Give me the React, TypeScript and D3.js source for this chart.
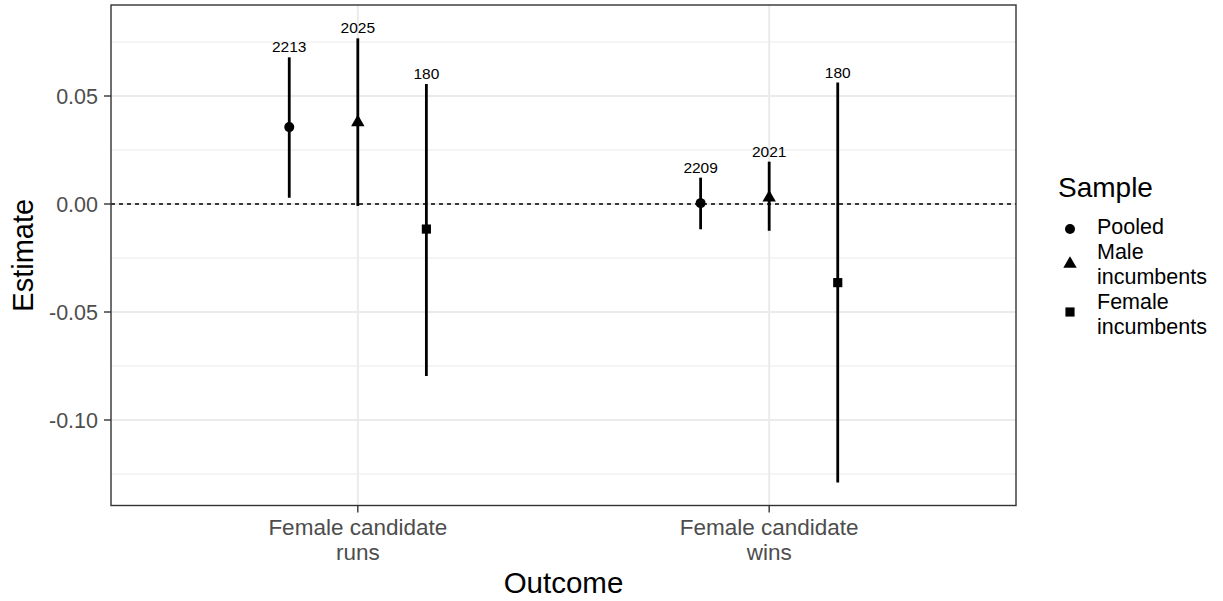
import React from 'react'
import * as d3 from 'd3'

const outcomes = ['Female candidate\nruns', 'Female candidate\nwins']
const samples = ['Pooled', 'Male\nincumbents', 'Female\nincumbents']

// estimates[sample][outcome]
const estimates = [
  [0.0356, 0.0004],
  [0.0378, 0.0029],
  [-0.0116, -0.0364],
]
const lowers = [
  [0.0029, -0.0117],
  [-0.0009, -0.0124],
  [-0.0796, -0.1289],
]
const uppers = [
  [0.0679, 0.0122],
  [0.0767, 0.0196],
  [0.0556, 0.0562],
]
const nObs = [
  [2213, 2209],
  [2025, 2021],
  [180, 180],
]
const yTicks = [-0.1, -0.05, 0, 0.05]
const yMinor = [-0.125, -0.075, -0.025, 0.025, 0.075]

const W = 1223
const H = 601
const left = 111
const right = 1016
const top = 5
const bottom = 505.5
const font = 'Liberation Sans, Arial, sans-serif'

const shapes = [d3.symbolCircle, d3.symbolTriangle, d3.symbolSquare]
const shapeSizes = [78, 78, 84]

export default function App() {
  const x = d3.scalePoint<string>().domain(outcomes).range([left, right]).padding(0.6)
  const y = d3.scaleLinear().domain([-0.13958, 0.09213]).range([bottom, top])
  const dodge = x.step() / 6
  const fmt = (v: number) => d3.format('.2f')(v).replace('\u2212', '-')

  const sym = (i: number) => d3.symbol().type(shapes[i]).size(shapeSizes[i])() as string

  return (
    <svg width={W} height={H} style={{ position: 'absolute', left: 0, top: 0, fontFamily: font }}>
      <rect x={0} y={0} width={W} height={H} fill="#fff" />
      {/* grid */}
      {yMinor.map((v) => (
        <line key={'mi' + v} x1={left} x2={right} y1={y(v)} y2={y(v)} stroke="#EBEBEB" strokeWidth={1} />
      ))}
      {yTicks.map((v) => (
        <line key={'ma' + v} x1={left} x2={right} y1={y(v)} y2={y(v)} stroke="#EBEBEB" strokeWidth={2} />
      ))}
      {outcomes.map((o) => (
        <line key={'vx' + o} x1={x(o)} x2={x(o)} y1={top} y2={bottom} stroke="#EBEBEB" strokeWidth={2} />
      ))}
      <line x1={left} x2={right} y1={y(0)} y2={y(0)} stroke="#000" strokeWidth={1.3} strokeDasharray="4,4" />

      {/* error bars, points, labels */}
      {samples.map((s, si) =>
        outcomes.map((o, oi) => {
          const cx = (x(o) as number) + (si - 1) * dodge
          return (
            <g key={s + o}>
              <line x1={cx} x2={cx} y1={y(lowers[si][oi])} y2={y(uppers[si][oi])} stroke="#000" strokeWidth={2.8} />
              <path d={sym(si)} transform={`translate(${cx},${y(estimates[si][oi])})`} fill="#000" />
              <text x={cx} y={y(uppers[si][oi]) - 5} textAnchor="middle" fontSize={15.5} fill="#000">
                {nObs[si][oi]}
              </text>
            </g>
          )
        })
      )}

      <rect x={left} y={top} width={right - left} height={bottom - top} fill="none" stroke="#333" strokeWidth={1.4} />

      {/* y axis */}
      {yTicks.map((v) => (
        <g key={'yt' + v}>
          <line x1={left - 7} x2={left} y1={y(v)} y2={y(v)} stroke="#333" strokeWidth={1.4} />
          <text x={left - 13} y={y(v) + 7.5} textAnchor="end" fontSize={21.5} fill="#4D4D4D">
            {fmt(v)}
          </text>
        </g>
      ))}
      <text transform={`translate(33,${(top + bottom) / 2}) rotate(-90)`} textAnchor="middle" fontSize={29} fill="#000">
        Estimate
      </text>

      {/* x axis */}
      {outcomes.map((o) => (
        <g key={'xt' + o}>
          <line x1={x(o)} x2={x(o)} y1={bottom} y2={bottom + 7} stroke="#333" strokeWidth={1.4} />
          <text textAnchor="middle" fontSize={22.5} fill="#4D4D4D">
            {o.split('\n').map((line, li) => (
              <tspan key={li} x={x(o)} y={535 + li * 25}>
                {line}
              </tspan>
            ))}
          </text>
        </g>
      ))}
      <text x={(left + right) / 2} y={593} textAnchor="middle" fontSize={29.5} fill="#000">
        Outcome
      </text>

      {/* legend */}
      <text x={1058} y={197} fontSize={28} fill="#000">
        Sample
      </text>
      {samples.map((s, si) => {
        const lines = s.split('\n')
        const keyY = [229, 264, 312][si]
        const textY = [234, 259, 309][si]
        return (
          <g key={'lg' + s}>
            <path d={sym(si)} transform={`translate(1070,${keyY})`} fill="#000" />
            <text fontSize={21.5} fill="#000">
              {lines.map((line, li) => (
                <tspan key={li} x={1097} y={textY + li * 25}>
                  {line}
                </tspan>
              ))}
            </text>
          </g>
        )
      })}
    </svg>
  )
}
